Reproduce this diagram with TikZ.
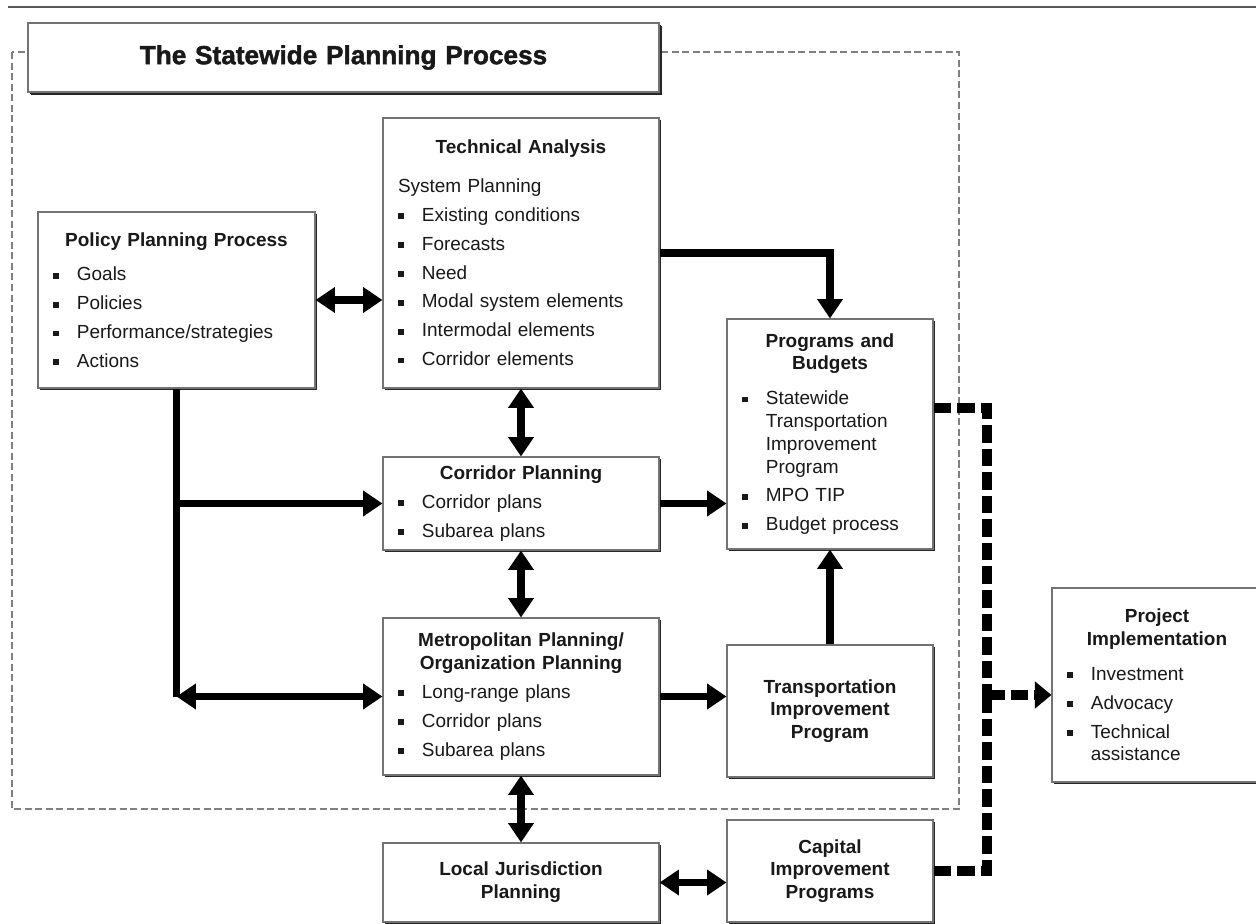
\documentclass[tikz,border=0pt]{standalone}
\usepackage{fontspec}
\setmainfont{Liberation Sans}
\newfontfamily\titlefont[BoldFeatures={FakeBold=1.6}]{Liberation Sans}
\usetikzlibrary{arrows.meta,shadows}

\newcommand{\bulsq}{\rule[0.22ex]{3.3pt}{3.3pt}}
\newcommand{\hdr}[2][3.4pt]{{\centering\bfseries #2\par}\vspace{#1}}
\newcommand{\itm}[1]{\par\vspace{3.4pt}\hangindent=13.6pt\hangafter=1\noindent\makebox[13.6pt][l]{\bulsq}#1\par}

\tikzset{
  box/.style n args={3}{draw=black!55, line width=0.6pt, fill=white,
    drop shadow={shadow xshift=1.1pt, shadow yshift=-1.1pt, fill=black!85, opacity=1},
    minimum width=#1cm, text width=#2cm, minimum height=#3cm,
    inner xsep=0.3cm, align=left, text=black!90,
    font=\fontsize{10.8pt}{13pt}\selectfont},
  boldc/.style={align=center, font=\fontsize{10.8pt}{13pt}\selectfont\bfseries},
  conn/.style={line width=4.5pt, black},
  dashconn/.style={line width=5.7pt, black, dash pattern=on 10pt off 3.4pt},
  frame/.style={draw=black!50, line width=0.6pt, dash pattern=on 4pt off 2pt},
}

\begin{document}
\begin{tikzpicture}[>={Triangle[length=11pt,width=14pt]}]
    \useasboundingbox (0,0) rectangle (25.12,-18.48);
    \draw[black!65, line width=1.1pt] (0.16,-0.14) -- (25.12,-0.14);
    \draw[frame] (0.24,-1.04) rectangle (19.18,-16.18);

    \node[box={12.62}{12.02}{1.38}, align=center, drop shadow={shadow xshift=1.6pt, shadow yshift=-1.6pt, fill=black!85, opacity=1},
          font=\fontsize{14.9pt}{17pt}\titlefont\bfseries] (title) at (6.87,-1.15) {The Statewide Planning Process};
    \node[box={5.54}{4.94}{3.52}] (policy) at (3.53,-6.0) {\hdr{Policy Planning Process}\itm{Goals}\itm{Policies}\itm{Performance/strategies}\itm{Actions}};
    \node[box={5.52}{4.92}{5.4}] (tech) at (10.42,-5.06) {\hdr[9pt]{Technical Analysis}System Planning\itm{Existing conditions}\itm{Forecasts}\itm{Need}\itm{Modal system elements}\itm{Intermodal elements}\itm{Corridor elements}};
    \node[box={4.12}{3.52}{4.6}] (prog) at (16.6,-8.68) {\hdr{Programs and\\Budgets}\itm{Statewide\newline Transportation\newline Improvement\newline Program}\itm{MPO TIP}\itm{Budget process}};
    \node[box={5.52}{4.92}{1.86}] (corr) at (10.42,-10.07) {\hdr[0pt]{Corridor Planning}\itm{Corridor plans}\itm{Subarea plans}};
    \node[box={5.52}{4.92}{3.14}] (metro) at (10.42,-13.93) {\hdr[0pt]{Metropolitan Planning/\\Organization Planning}\itm{Long-range plans}\itm{Corridor plans}\itm{Subarea plans}};
    \node[box={4.12}{3.52}{2.64}, boldc] (tip) at (16.6,-14.22) {Transportation\\Improvement\\Program};
    \node[box={5.52}{4.92}{1.58}, boldc] (local) at (10.42,-17.65) {Local Jurisdiction\\Planning};
    \node[box={4.12}{3.52}{2.04}, boldc] (cap) at (16.6,-17.42) {Capital\\Improvement\\Programs};
    \node[box={4.2}{3.6}{3.88}] (proj) at (23.14,-13.7) {\hdr{Project\\Implementation}\itm{Investment}\itm{Advocacy}\itm{Technical\newline assistance}};

    % solid links
    \draw[conn,<->] (policy.east) -- (policy.east -| tech.west);
    \draw[conn,->] (tech.east) -| (prog.north);
    \draw[conn,<->] (tech.south) -- (corr.north);
    \coordinate (pcorner) at (policy.south |- metro.west);
    \draw[conn] (policy.south) -- (pcorner);
    \draw[conn,->] (policy.south |- corr.west) -- (corr.west);
    \draw[conn,<->] (pcorner) -- (metro.west);
    \draw[conn,->] (corr.east) -- (corr.east -| prog.west);
    \draw[conn,<->] (corr.south) -- (metro.north);
    \draw[conn,->] (metro.east) -- (metro.east -| tip.west);
    \draw[conn,->] (tip.north) -- (prog.south);
    \draw[conn,<->] (metro.south) -- (local.north);
    \draw[conn,<->] (local.east) -- (local.east -| cap.west);

    % dashed links to implementation
    \coordinate (bendtop) at (19.74,-8.16);
    \coordinate (join) at (19.74,-13.9);
    \draw[dashconn] (prog.east |- bendtop) -- (bendtop) -- (join);
    \draw[dashconn] (cap.east) -| (join);
    \draw[dashconn,->,>={Triangle[length=9.5pt,width=15pt]}] (join) -- (join -| proj.west);
\end{tikzpicture}
\end{document}
